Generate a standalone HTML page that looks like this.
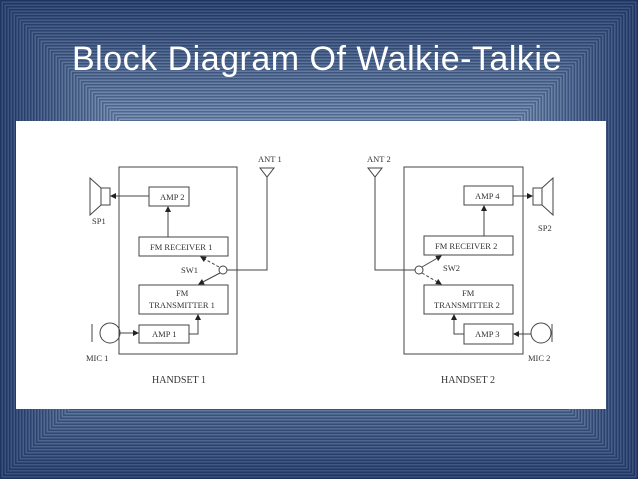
<!DOCTYPE html>
<html><head><style>
html,body{margin:0;padding:0;width:638px;height:479px;overflow:hidden;background:#2a4670;}
#bg{position:absolute;left:0;top:0;}
#title{position:absolute;left:72px;top:40px;color:#fff;font:34px "Liberation Sans",sans-serif;letter-spacing:0.5px;white-space:nowrap;}
#panel{position:absolute;left:16px;top:121px;width:590px;height:288px;background:#fff;}
#d{position:absolute;left:0;top:0;}
text{font-family:"Liberation Serif",serif;font-size:8.5px;fill:#333;}
</style></head><body>
<svg id="bg" width="638" height="479"></svg>
<div id="title">Block Diagram Of Walkie-Talkie</div>
<div id="panel"></div>
<svg id="d" width="638" height="479" stroke="#444" stroke-width="1" fill="none">
<defs><marker id="a" markerWidth="6" markerHeight="6" refX="5" refY="3" orient="auto"><path d="M0,0L6,3L0,6z" fill="#222" stroke="none"/></marker></defs>
<rect x="119" y="167" width="118" height="187"/>
<rect x="149" y="187" width="40" height="19"/>
<rect x="139" y="237" width="89" height="19"/>
<rect x="139" y="285" width="89" height="29"/>
<rect x="139" y="325" width="50" height="18"/>
<rect x="101" y="188" width="9" height="17"/>
<path d="M101,188L90,178V215L101,205"/>
<path d="M149,196H111" marker-end="url(#a)"/>
<path d="M168,237V207" marker-end="url(#a)"/>
<circle cx="223" cy="270" r="4"/>
<path d="M260,168H274L267,177ZM267,177V270H227"/>
<path d="M220,273L199,284" marker-end="url(#a)"/>
<path d="M219,267L201,257" stroke-dasharray="3,2" marker-end="url(#a)"/>
<circle cx="110" cy="333" r="10"/>
<path d="M92,324V342"/>
<path d="M120,333H138" marker-end="url(#a)"/>
<path d="M189,334H198V315" marker-end="url(#a)"/>
<rect x="404" y="167" width="119" height="187"/>
<rect x="464" y="186" width="49" height="19"/>
<rect x="424" y="236" width="89" height="19"/>
<rect x="424" y="285" width="89" height="29"/>
<rect x="464" y="324" width="49" height="20"/>
<rect x="533" y="188" width="9" height="17"/>
<path d="M542,188L553,178V215L542,205"/>
<path d="M513,196H532" marker-end="url(#a)"/>
<path d="M484,236V206" marker-end="url(#a)"/>
<circle cx="419" cy="270" r="4"/>
<path d="M368,168H382L375,177ZM375,177V270H415"/>
<path d="M422,267L441,256" marker-end="url(#a)"/>
<path d="M422,273L441,284" stroke-dasharray="3,2" marker-end="url(#a)"/>
<circle cx="541" cy="333" r="10"/>
<path d="M552,324V342"/>
<path d="M531,334H514" marker-end="url(#a)"/>
<path d="M464,334H454V315" marker-end="url(#a)"/>
<g stroke="none">
<text x="258" y="162">ANT 1</text>
<text x="92" y="224">SP1</text>
<text x="160" y="200">AMP 2</text>
<text x="150" y="250">FM RECEIVER  1</text>
<text x="181" y="273">SW1</text>
<text x="176" y="296">FM</text>
<text x="149" y="308">TRANSMITTER  1</text>
<text x="152" y="337">AMP 1</text>
<text x="86" y="361">MIC 1</text>
<text x="152" y="383" style="font-size:10px">HANDSET 1</text>
<text x="367" y="162">ANT 2</text>
<text x="538" y="231">SP2</text>
<text x="475" y="199">AMP 4</text>
<text x="435" y="249">FM RECEIVER  2</text>
<text x="443" y="271">SW2</text>
<text x="462" y="296">FM</text>
<text x="434" y="308">TRANSMITTER  2</text>
<text x="475" y="337">AMP 3</text>
<text x="528" y="361">MIC 2</text>
<text x="441" y="383" style="font-size:10px">HANDSET 2</text>
</g>
</svg>
<script>
var s=document.getElementById('bg'),h='';
var W=638,H=479;
for(var i=0;;i++){var d=i*1.5;if(2*d>=H)break;var t=Math.min(1,d/140);
var c1=[30+60*t,52+65*t,95+60*t],c2=[55+85*t,80+80*t,125+65*t];
var c=(i%2?c2:c1).map(Math.round);
h+='<rect x="'+d+'" y="'+d+'" width="'+(W-2*d)+'" height="'+(H-2*d)+'" fill="rgb('+c+')"/>';}
s.innerHTML=h;
</script>
</body></html>
